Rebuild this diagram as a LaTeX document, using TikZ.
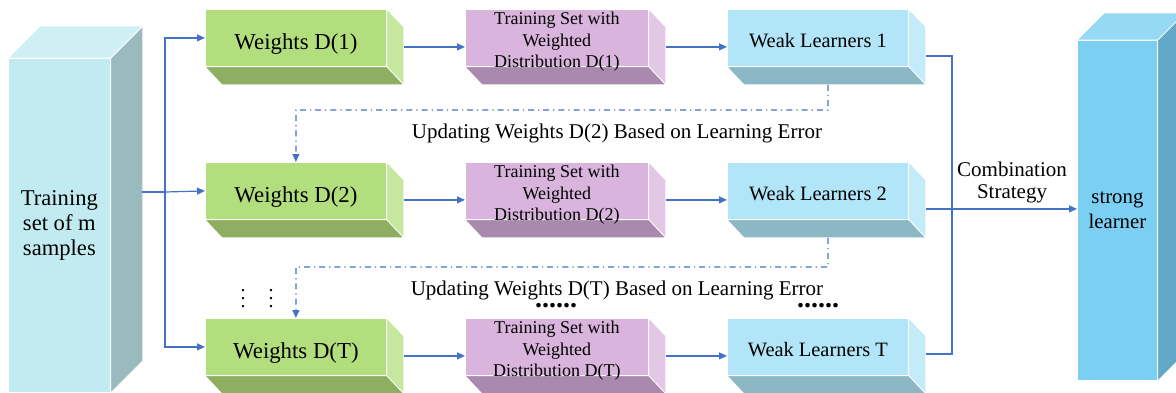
\documentclass[tikz,border=0pt]{standalone}
\usepackage{fontspec}
\setmainfont{Liberation Serif}
\usetikzlibrary{arrows.meta,backgrounds}

\definecolor{lineblue}{HTML}{4472C4}
\definecolor{greenfront}{HTML}{B3DE7E}
\definecolor{greenside}{HTML}{C6E89E}
\definecolor{greenbottom}{HTML}{8EAE62}
\definecolor{purplefront}{HTML}{D9B5DD}
\definecolor{purpleside}{HTML}{E3C8E6}
\definecolor{purplebottom}{HTML}{A98AAE}
\definecolor{cyanfront}{HTML}{B1E5F7}
\definecolor{cyanside}{HTML}{C3EBF9}
\definecolor{cyanbottom}{HTML}{8CB7C4}
\definecolor{trainfront}{HTML}{C2EBF1}
\definecolor{trainside}{HTML}{99BBBF}
\definecolor{traintop}{HTML}{CEEFF4}
\definecolor{strongfront}{HTML}{7BCFF3}
\definecolor{strongside}{HTML}{63A7C6}
\definecolor{strongtop}{HTML}{95D9F4}

% side and bottom faces of a flat box (node = front face), kept behind the text
\newcommand{\slabfaces}[3]{%
  \begin{pgfonlayer}{background}
  \filldraw[fill=#2,draw=white,line width=0.4pt] (#1.north east) -- ++(8.5pt,-9pt)
    -- ([shift={(8.5pt,-9pt)}]#1.south east) -- (#1.south east) -- cycle;
  \filldraw[fill=#3,draw=white,line width=0.4pt] (#1.south west) -- ++(8.5pt,-9pt)
    -- ([shift={(8.5pt,-9pt)}]#1.south east) -- (#1.south east) -- cycle;
  \end{pgfonlayer}
}
% side and top faces of a tall box
\newcommand{\pillarfaces}[4]{%
  \filldraw[fill=#3,draw=white,line width=0.4pt] (#1.north east) -- ++(#2,#2)
    -- ([shift={(#2,#2)}]#1.south east) -- (#1.south east) -- cycle;
  \filldraw[fill=#4,draw=white,line width=0.4pt] (#1.north west) -- ++(#2,#2)
    -- ([shift={(#2,#2)}]#1.north east) -- (#1.north east) -- cycle;
}
% three-line label, no height of its own, sitting a bit low in its box
\newcommand{\setlines}[1]{\raisebox{-4.25pt}[0pt][0pt]{%
  \begin{tabular}{@{}c@{}}Training Set with\\Weighted\\Distribution #1\end{tabular}}}

\tikzset{
  slab/.style={anchor=north west, inner sep=0pt, minimum height=28.5pt,
    draw=white, line width=0.4pt, align=center},
  weightbox/.style={slab, fill=greenfront, minimum width=90.5pt,
    text height=11.5pt, text depth=0pt, font=\fontsize{11.4}{13}\selectfont},
  setbox/.style={slab, fill=purplefront, minimum width=91.5pt,
    font=\fontsize{9}{10.8}\selectfont},
  weakbox/.style={slab, fill=cyanfront, minimum width=90.5pt,
    text height=10pt, text depth=0pt, font=\fontsize{10.2}{12}\selectfont},
  pillar/.style={anchor=north west, inner sep=0pt, draw=white,
    line width=0.4pt, align=center},
  flow/.style={draw=lineblue, line width=0.6pt},
  tip/.style={-{Triangle[length=4pt,width=3.5pt]}},
  feedback/.style={flow, dash dot},
  note/.style={font=\fontsize{10.5}{11}\selectfont, align=center},
  elide/.style={inner sep=0pt, font=\fontsize{14}{14}\selectfont\bfseries},
}

\begin{document}
\begin{tikzpicture}[x=0.5pt, y=-0.5pt]
\useasboundingbox (0,0) rectangle (1176,392);

% input and output pillars
\node[pillar, fill=trainfront, minimum width=51pt, minimum height=167pt,
  font=\fontsize{11.3}{12.5}\selectfont] (train) at (8,58) {Training\\set of m\\samples};
\pillarfaces{train}{16pt}{trainside}{traintop}
\node[pillar, fill=strongfront, minimum width=40pt, minimum height=170pt,
  font=\fontsize{10.4}{12.5}\selectfont] (strong) at (1077,40) {strong\\learner};
\pillarfaces{strong}{13.5pt}{strongside}{strongtop}

% the three rounds
\node[weightbox] (w1) at (205,9) {Weights D(1)};
\node[setbox] (s1) at (465,9) {\setlines{D(1)}};
\node[weakbox] (l1) at (727,9) {Weak Learners 1};

\node[weightbox] (w2) at (205,162) {Weights D(2)};
\node[setbox] (s2) at (465,162) {\setlines{D(2)}};
\node[weakbox] (l2) at (727,162) {Weak Learners 2};

\node[weightbox] (wT) at (205,318) {Weights D(T)};
\node[setbox] (sT) at (465,318) {\setlines{D(T)}};
\node[weakbox] (lT) at (727,318) {Weak Learners T};

\foreach \n in {1,2,T} {
  \slabfaces{w\n}{greenside}{greenbottom}
  \slabfaces{s\n}{purpleside}{purplebottom}
  \slabfaces{l\n}{cyanside}{cyanbottom}
}

% splitting the samples
\coordinate (trainout) at (142,192);
\coordinate (split) at (165,192);
\draw[flow] (trainout) -- (split);
\draw[flow, tip] (split) |- (w1.west);
\draw[flow, tip] (split) -- (w2.west);
\draw[flow, tip] (split) |- (wT.west);

% along each row
\foreach \n in {1,2,T} {
  \draw[flow, tip] ([shift={(8.5pt,-4.5pt)}]w\n.east) -- ([yshift=-4.5pt]s\n.west);
  \draw[flow, tip] ([shift={(8.5pt,-4.5pt)}]s\n.east) -- ([yshift=-4.5pt]l\n.west);
}

% combining the weak learners
\coordinate (l1out) at ([shift={(8.5pt,-9pt)}]l1.east);
\coordinate (l2out) at ([shift={(8.5pt,-9pt)}]l2.east);
\coordinate (lTout) at ([shift={(8.5pt,-3.5pt)}]lT.east);
\coordinate (collect) at (952,210);
\draw[flow] (l1out) -| (collect);
\draw[flow] (lTout) -| (collect);
\draw[flow, tip] (l2out) -- (strong.west |- l2out);
\node[note] (combo) at (1012,182) {Combination\\Strategy};

% weight updates
\coordinate (fb1) at ([xshift=5pt,yshift=-9pt]l1.south);
\coordinate (bend1) at (828,110);
\draw[feedback, tip] (fb1) -- (bend1) -| (w2.north);
\node[note] (upd2) at (617,133) {Updating Weights D(2) Based on Learning Error};

\coordinate (fb2) at ([xshift=5pt,yshift=-9pt]l2.south);
\coordinate (bend2) at (828,267);
\draw[feedback, tip] (fb2) -- (bend2) -| (wT.north);
\node[note] (updT) at (617,290) {Updating Weights D(T) Based on Learning Error};

% elided rounds
\node[inner sep=0pt] (skipa) at (243,293) {$\vdots$};
\node[inner sep=0pt] (skipb) at (271,293) {$\vdots$};
\node[elide] (skips) at (556,306) {......};
\node[elide] (skipl) at (818,306) {......};
\end{tikzpicture}
\end{document}
